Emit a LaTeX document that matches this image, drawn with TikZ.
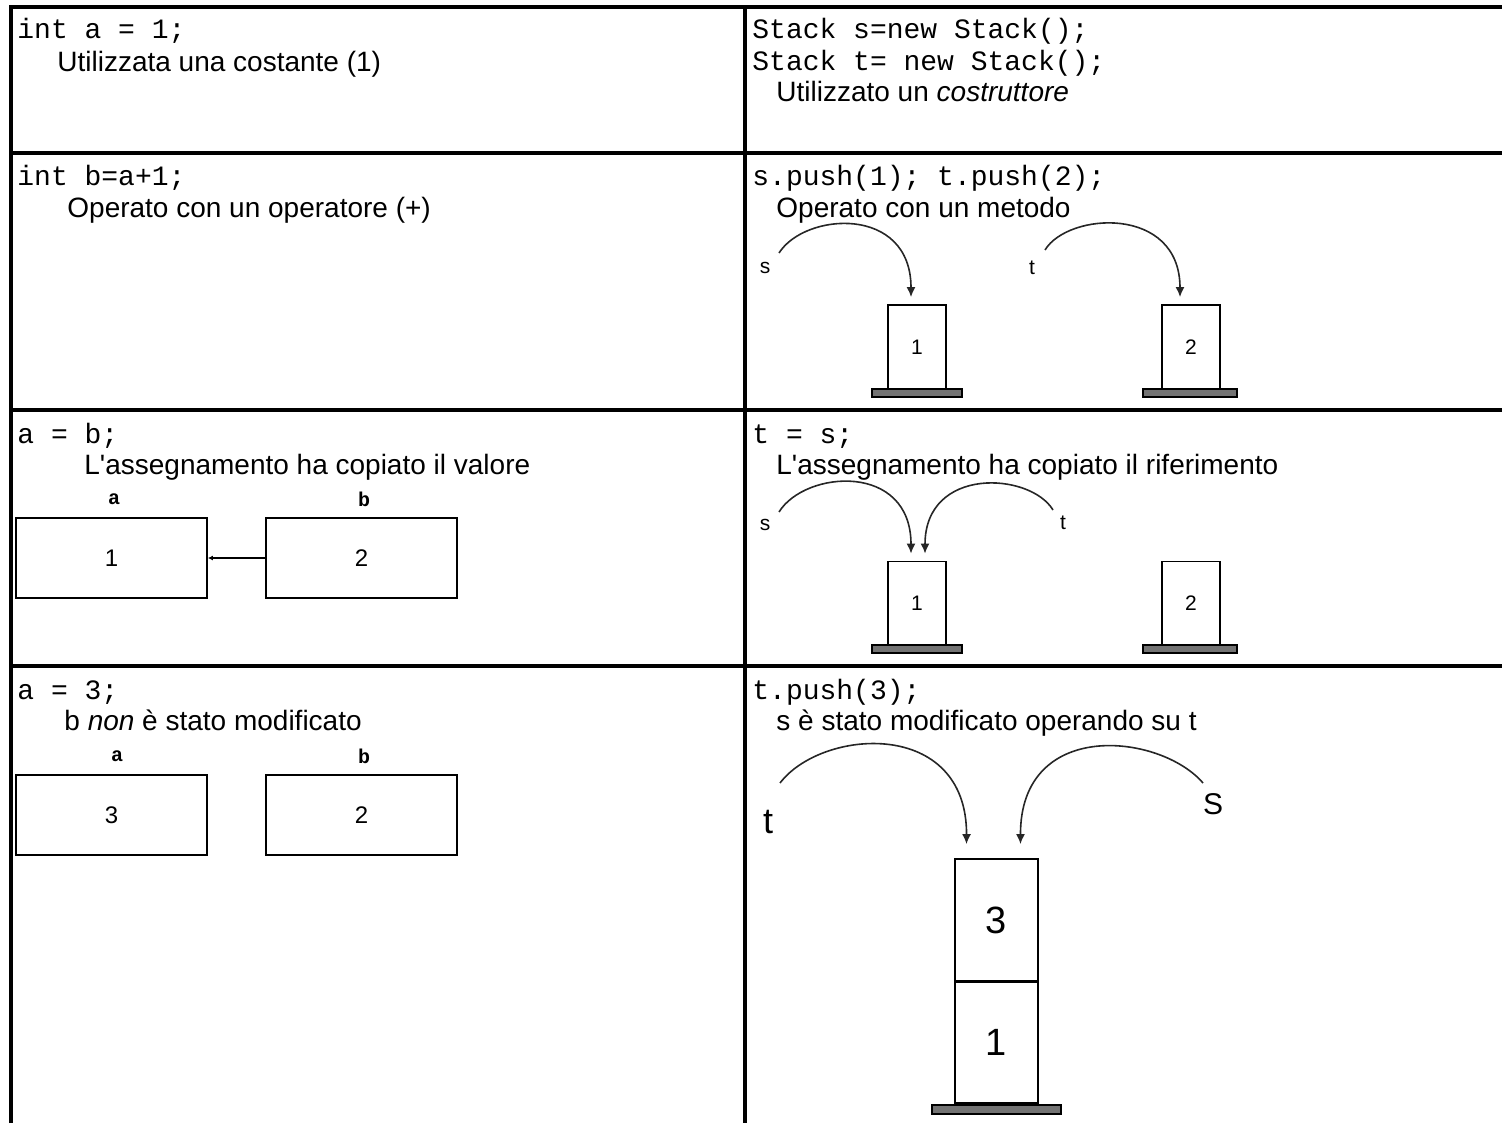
\documentclass[tikz,border=0pt]{standalone}
\usepackage{fontspec}
\setmainfont{Liberation Sans}
\setmonofont{Liberation Mono}
\usetikzlibrary{arrows.meta,patterns}
\begin{document}
\begin{tikzpicture}[x=0.5pt,y=-0.5pt,
  gridline/.style={line width=1.6pt},
  code/.style={anchor=base west, inner sep=0, font=\ttfamily\fontsize{14}{16}\selectfont},
  txt/.style={anchor=base west, inner sep=0, font=\fontsize{14}{16}\selectfont},
  varbox/.style={draw, line width=0.9pt, inner sep=0, minimum width=95.5pt, minimum height=40pt, font=\fontsize{12}{14}\selectfont},
  varlbl/.style={inner sep=0, font=\ttfamily\bfseries\fontsize{10}{12}\selectfont},
  stk/.style={draw, line width=0.9pt, inner sep=0, minimum width=29pt, minimum height=42pt, font=\fontsize{10.5}{12}\selectfont},
  bigstk/.style={draw, line width=0.9pt, inner sep=0, minimum width=41.5pt, font=\fontsize{19}{22}\selectfont},
  stkbase/.style={draw, fill=black!55, line width=1pt, inner sep=0, minimum width=45pt, minimum height=4pt},
  reflbl/.style={inner sep=0, font=\fontsize{10.5}{12}\selectfont},
  ptr/.style={draw=black!85, line width=0.8pt, -{Latex[length=5pt,width=4.5pt]}},
  cpy/.style={draw, line width=0.7pt, -{Latex[length=2.5pt,width=2.5pt]}}
]
\useasboundingbox (0,0) rectangle (1502,1123);
% grid
\draw[gridline] (11,1123) -- (11,7) -- (1502,7);
\draw[gridline] (745,7) -- (745,1123);
\draw[gridline] (11,153) -- (1502,153);
\draw[gridline] (11,410) -- (1502,410);
\draw[gridline] (11,666) -- (1502,666);

% row 1
\node[code] (c1) at (17,39) {int a = 1;};
\node[txt] (t1) at (57,72) {Utilizzata una costante (1)};
\node[code] (c1r) at (752,39) {Stack s=new Stack();};
\node[code] (c1r2) at (752,71) {Stack t= new Stack();};
\node[txt] (t1r) at (776,102) {Utilizzato un \textit{costruttore}};

% row 2
\node[code] (c2) at (17,186) {int b=a+1;};
\node[txt] (t2) at (67,218) {Operato con un operatore (+)};
\node[code] (c2r) at (752,186) {s.push(1); t.push(2);};
\node[txt] (t2r) at (776,218) {Operato con un metodo};
\node[stk] (s2a) at (917,347) {1};
\node[stkbase] (b2a) at (917,393) {};
\node[stk] (s2b) at (1191,347) {2};
\node[stkbase, minimum width=47pt] (b2b) at (1190,393) {};
\node[reflbl] (ls2) at (765,268) {s};
\node[reflbl] (lt2) at (1032,268) {t};
\coordinate (as2) at (779,253);
\coordinate (at2) at (1045,250);
\draw[ptr] (as2) .. controls (805,212) and (911,205) .. ([xshift=-3pt,yshift=3.5pt]s2a.north);
\draw[ptr] (at2) .. controls (1068,212) and (1180,205) .. ([xshift=-5.5pt,yshift=3.5pt]s2b.north);

% row 3
\node[code] (c3) at (17,443) {a = b;};
\node[txt] (t3) at (84,474) {L\textquotesingle assegnamento ha copiato il valore};
\node[varlbl] (la3) at (114,499) {a};
\node[varlbl] (lb3) at (364,499) {b};
\node[varbox] (va3) at (111.5,558) {1};
\node[varbox] (vb3) at (361.5,558) {2};
\draw[cpy] (vb3.west) -- (va3.east);
\node[code] (c3r) at (752,443) {t = s;};
\node[txt] (t3r) at (776,474) {L\textquotesingle assegnamento ha copiato il riferimento};
\node[stk] (s3a) at (917,603.5) {1};
\node[stkbase] (b3a) at (917,649) {};
\node[stk] (s3b) at (1191,603.5) {2};
\node[stkbase, minimum width=47pt] (b3b) at (1190,649) {};
\node[reflbl] (ls3) at (765,525) {s};
\node[reflbl] (lt3) at (1063,523) {t};
\coordinate (as3) at (779,512);
\coordinate (at3) at (1053,510);
\draw[ptr] (as3) .. controls (805,470) and (911,462) .. ([xshift=-3pt,yshift=3.5pt]s3a.north);
\draw[ptr] (at3) .. controls (1030,472) and (925,466) .. ([xshift=4pt,yshift=3.5pt]s3a.north);

% row 4
\node[code] (c4) at (17,699) {a = 3;};
\node[txt] (t4) at (64,730) {b \textit{non} è stato modificato};
\node[varlbl] (la4) at (117,756) {a};
\node[varlbl] (lb4) at (364,756) {b};
\node[varbox] (va4) at (111.5,815) {3};
\node[varbox] (vb4) at (361.5,815) {2};
\node[code] (c4r) at (752,699) {t.push(3);};
\node[txt] (t4r) at (776,730) {s è stato modificato operando su t};
\node[bigstk, minimum height=61.5pt] (s4top) at (996.5,920.5) {3};
\node[bigstk, minimum height=60.5pt] (s4bot) at (996.5,1042.5) {1};
\draw[line width=1.6pt] (s4bot.north west) -- (s4bot.north east);
\node[stkbase, minimum width=64.5pt, minimum height=4.5pt] (b4) at (996.5,1109.5) {};
\node[inner sep=0, font=\fontsize{18}{20}\selectfont] (lt4) at (768,822) {t};
\node[inner sep=0, font=\fontsize{15}{17}\selectfont] (ls4) at (1213,804) {S};
\coordinate (at4) at (780,783);
\coordinate (as4) at (1203,783);
\draw[ptr] (at4) .. controls (822,728) and (967,718) .. ([xshift=-15pt,yshift=7pt]s4top.north);
\draw[ptr] (as4) .. controls (1160,733) and (1020,718) .. ([xshift=12pt,yshift=7pt]s4top.north);
\end{tikzpicture}
\end{document}
